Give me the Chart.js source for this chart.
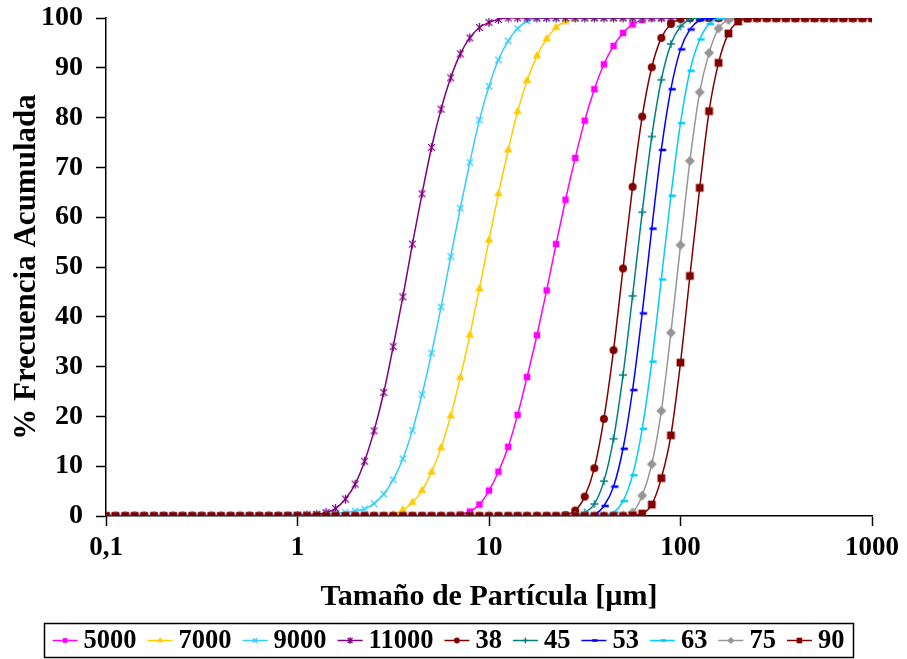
<!DOCTYPE html>
<html>
<head>
<meta charset="utf-8">
<script src="https://cdn.jsdelivr.net/npm/chart.js@4/dist/chart.umd.min.js"></script>
<style>
  html, body { margin: 0; padding: 0; background: #ffffff; }
  #wrap { width: 907px; height: 659px; position: relative; }
</style>
</head>
<body>
<div id="wrap"><canvas id="c" width="907" height="659"></canvas></div>
<script>
// ---------------- data ----------------
const sizes = [
  0.1, 0.112, 0.126, 0.141, 0.158, 0.178, 0.2, 0.224, 0.251, 0.282, 0.316, 0.355, 0.398, 0.447, 0.501, 0.562, 0.631, 0.708, 0.794, 0.891,
  1, 1.12, 1.26, 1.41, 1.58, 1.78, 2, 2.24, 2.51, 2.82, 3.16, 3.55, 3.98, 4.47, 5.01, 5.62, 6.31, 7.08, 7.94, 8.91,
  10, 11.2, 12.6, 14.1, 15.8, 17.8, 20, 22.4, 25.1, 28.2, 31.6, 35.5, 39.8, 44.7, 50.1, 56.2, 63.1, 70.8, 79.4, 89.1,
  100, 112, 126, 141, 158, 178, 200, 224, 251, 282, 316, 355, 398, 447, 501, 562, 631, 708, 794, 891,
  1000
];

const seriesNames = ['5000', '7000', '9000', '11000', '38', '45', '53', '63', '75', '90'];

const s5000 = [
  0,0,0,0,0,0,0,0,0,0,0,0,0,0,0,0,0,0,0,0,
  0,0,0,0,0,0,0,0,0,0,0,0,0,0,0,0,0,0.3,0.9,2.3,
  5.1,8.9,13.9,20.3,27.9,36.3,45.3,54.6,63.5,71.9,79.4,85.7,90.7,94.4,97.0,98.7,99.6,100,100,100,
  100,100,100,100,100,100,100,100,100,100,100,100,100,100,100,100,100,100,100,100,
  100
];
const s7000 = [
  0,0,0,0,0,0,0,0,0,0,0,0,0,0,0,0,0,0,0,0,
  0,0,0,0,0,0,0,0,0,0,0.3,1.2,2.7,5.1,8.8,13.7,20.1,27.8,36.3,45.6,
  55.4,64.7,73.5,81.2,87.4,92.4,95.8,98.1,99.3,99.8,100,100,100,100,100,100,100,100,100,100,
  100,100,100,100,100,100,100,100,100,100,100,100,100,100,100,100,100,100,100,100,
  100
];
const s9000 = [
  0,0,0,0,0,0,0,0,0,0,0,0,0,0,0,0,0,0,0,0.2,
  0.3,0.3,0.4,0.5,0.6,0.7,1.0,1.4,2.5,4.4,7.3,11.5,17.2,24.4,32.7,42.0,52.1,61.8,71.0,79.5,
  86.3,91.6,95.4,97.9,99.4,99.9,100,100,100,100,100,100,100,100,100,100,100,100,100,100,
  100,100,100,100,100,100,100,100,100,100,100,100,100,100,100,100,100,100,100,100,
  100
];
const s11000 = [
  0,0,0,0,0,0,0,0,0,0,0,0,0,0,0,0,0,0,0,0,
  0.1,0.2,0.3,0.7,1.5,3.4,6.4,11.0,17.1,24.8,34.0,44.0,54.6,64.7,74.0,81.7,88.0,92.8,96.0,98.1,
  99.1,99.7,100,100,100,100,100,100,100,100,100,100,100,100,100,100,100,100,100,100,
  100,100,100,100,100,100,100,100,100,100,100,100,100,100,100,100,100,100,100,100,
  100
];
const s38 = [
  0,0,0,0,0,0,0,0,0,0,0,0,0,0,0,0,0,0,0,0,
  0,0,0,0,0,0,0,0,0,0,0,0,0,0,0,0,0,0,0,0,
  0,0,0,0,0,0,0,0,0.2,1.1,3.9,9.6,19.5,33.3,49.7,66.1,80.2,90.1,96.0,98.8,
  99.8,100,100,100,100,100,100,100,100,100,100,100,100,100,100,100,100,100,100,100,
  100
];
const s45 = [
  0,0,0,0,0,0,0,0,0,0,0,0,0,0,0,0,0,0,0,0,
  0,0,0,0,0,0,0,0,0,0,0,0,0,0,0,0,0,0,0,0,
  0,0,0,0,0,0,0,0,0,0.1,0.7,2.4,7.0,15.5,28.3,44.2,61.0,76.2,87.6,94.8,
  98.3,99.7,100,100,100,100,100,100,100,100,100,100,100,100,100,100,100,100,100,100,
  100
];
const s53 = [
  0,0,0,0,0,0,0,0,0,0,0,0,0,0,0,0,0,0,0,0,
  0,0,0,0,0,0,0,0,0,0,0,0,0,0,0,0,0,0,0,0,
  0,0,0,0,0,0,0,0,0,0,0,0.3,2.0,5.9,13.5,25.3,40.7,57.7,73.5,85.7,
  93.7,97.7,99.6,100,100,100,100,100,100,100,100,100,100,100,100,100,100,100,100,100,
  100
];
const s63 = [
  0,0,0,0,0,0,0,0,0,0,0,0,0,0,0,0,0,0,0,0,
  0,0,0,0,0,0,0,0,0,0,0,0,0,0,0,0,0,0,0,0,
  0,0,0,0,0,0,0,0,0,0,0,0,0.1,0.7,3.0,8.2,17.5,31.0,47.5,64.3,
  78.9,89.4,95.7,98.8,99.9,100,100,100,100,100,100,100,100,100,100,100,100,100,100,100,
  100
];
const s75 = [
  0,0,0,0,0,0,0,0,0,0,0,0,0,0,0,0,0,0,0,0,
  0,0,0,0,0,0,0,0,0,0,0,0,0,0,0,0,0,0,0,0,
  0,0,0,0,0,0,0,0,0,0,0,0,0,0,0.1,0.7,4.1,10.4,21.1,36.8,
  54.4,71.3,85.1,93.0,97.9,99.6,100,100,100,100,100,100,100,100,100,100,100,100,100,100,
  100
];
const s90 = [
  0,0,0,0,0,0,0,0,0,0,0,0,0,0,0,0,0,0,0,0,
  0,0,0,0,0,0,0,0,0,0,0,0,0,0,0,0,0,0,0,0,
  0,0,0,0,0,0,0,0,0,0,0,0,0,0,0,0.1,0.5,2.3,7.6,16.2,
  30.8,48.2,65.9,81.3,91.0,96.9,99.3,99.9,100,100,100,100,100,100,100,100,100,100,100,100,
  100
];

const xTickValues = [0.1, 1, 10, 100, 1000];
const xTickLabels = ['0,1', '1', '10', '100', '1000'];
const yTickValues = [0, 10, 20, 30, 40, 50, 60, 70, 80, 90, 100];

const xTitle = 'Tamaño de Partícula [\u00b5m]';
const yTitle = '% Frecuencia Acumulada';

// ---------------- styles ----------------
const seriesValues = [s5000, s7000, s9000, s11000, s38, s45, s53, s63, s75, s90];
const seriesColors = ['#FF00FF', '#FFCC00', '#33CCFF', '#800080', '#800000', '#008080', '#0000FF', '#00CCFF', '#969696', '#800000'];
const seriesMarkers = ['rect', 'triangle', 'crossRot', 'asterisk', 'circle', 'cross', 'dash', 'dash', 'rectRot', 'rect'];
const markerRadius = [4.6, 5, 4, 4.5, 4, 4, 4, 4, 5, 5.5];

const FONT = "'Liberation Serif', 'Times New Roman', serif";

function drawMarker(ctx, style, x, y, r, color) {
  ctx.save();
  ctx.fillStyle = color;
  ctx.strokeStyle = color;
  ctx.lineWidth = 1.3;
  ctx.beginPath();
  switch (style) {
    case 'rect': {
      const s = r * Math.SQRT1_2;
      ctx.rect(x - s, y - s, 2 * s, 2 * s);
      ctx.fill();
      break;
    }
    case 'rectRot': {
      ctx.moveTo(x, y - r); ctx.lineTo(x + r, y); ctx.lineTo(x, y + r); ctx.lineTo(x - r, y); ctx.closePath();
      ctx.fill();
      break;
    }
    case 'triangle': {
      ctx.moveTo(x, y - r); ctx.lineTo(x + r * 0.866, y + r * 0.5); ctx.lineTo(x - r * 0.866, y + r * 0.5); ctx.closePath();
      ctx.fill();
      break;
    }
    case 'circle': {
      ctx.arc(x, y, r, 0, Math.PI * 2);
      ctx.fill();
      break;
    }
    case 'crossRot': {
      const d = r * 0.8;
      ctx.moveTo(x - d, y - d); ctx.lineTo(x + d, y + d);
      ctx.moveTo(x + d, y - d); ctx.lineTo(x - d, y + d);
      ctx.stroke();
      break;
    }
    case 'asterisk': {
      const d = r * 0.75;
      ctx.moveTo(x - d, y - d); ctx.lineTo(x + d, y + d);
      ctx.moveTo(x + d, y - d); ctx.lineTo(x - d, y + d);
      ctx.moveTo(x, y - r); ctx.lineTo(x, y + r);
      ctx.stroke();
      break;
    }
    case 'cross': {
      ctx.moveTo(x - r, y); ctx.lineTo(x + r, y);
      ctx.moveTo(x, y - r); ctx.lineTo(x, y + r);
      ctx.stroke();
      break;
    }
    case 'dash': {
      ctx.lineWidth = 2.6;
      ctx.moveTo(x - r * 0.6, y); ctx.lineTo(x + r * 1.2, y);
      ctx.stroke();
      break;
    }
  }
  ctx.restore();
}

function markerCanvas(style, r, color) {
  const size = Math.ceil(r * 2 + 6);
  const cv = document.createElement('canvas');
  cv.width = size; cv.height = size;
  drawMarker(cv.getContext('2d'), style, size / 2, size / 2, r, color);
  return cv;
}

const N = seriesNames.length;
const datasets = seriesNames.map((name, i) => ({
  label: name,
  data: sizes.map((x, k) => ({ x: x, y: seriesValues[i][k] })),
  borderColor: seriesColors[i],
  backgroundColor: seriesColors[i],
  borderWidth: 1.5,
  pointStyle: markerCanvas(seriesMarkers[i], markerRadius[i], seriesColors[i]),
  pointRadius: markerRadius[i],
  pointHoverRadius: markerRadius[i],
  cubicInterpolationMode: 'monotone',
  fill: false,
  order: N - 1 - i
}));

// legend drawn from the datasets (line sample + marker + label), inside a framed box
const boxedLegend = {
  id: 'boxedLegend',
  afterDraw(chart) {
    const ctx = chart.ctx;
    const boxL = 44, boxR = 853, boxT = 623, boxB = 657;
    const cy = (boxT + boxB) / 2 + 0.5;
    ctx.save();
    ctx.font = 'bold 26.5px ' + FONT;
    ctx.textBaseline = 'middle';
    ctx.textAlign = 'left';
    const sample = 25, gapS = 6, gapI = 11;
    const dsets = chart.data.datasets;
    const widths = dsets.map(d => ctx.measureText(d.label).width);
    let total = 0;
    widths.forEach((w, i) => { total += sample + gapS + w + (i < widths.length - 1 ? gapI : 0); });
    let x = (boxL + boxR) / 2 - total / 2;
    dsets.forEach((d, i) => {
      ctx.strokeStyle = seriesColors[i];
      ctx.lineWidth = 1.5;
      ctx.beginPath();
      ctx.moveTo(x, cy); ctx.lineTo(x + sample, cy);
      ctx.stroke();
      drawMarker(ctx, seriesMarkers[i], x + sample / 2, cy, markerRadius[i] * 0.72, seriesColors[i]);
      ctx.fillStyle = '#000';
      ctx.fillText(d.label, x + sample + gapS, cy + 1);
      x += sample + gapS + widths[i] + gapI;
    });
    ctx.strokeStyle = '#000';
    ctx.lineWidth = 1.5;
    ctx.strokeRect(boxL + 0.5, boxT + 0.5, boxR - boxL, boxB - boxT);
    ctx.restore();
  }
};

new Chart(document.getElementById('c'), {
  type: 'line',
  data: { datasets: datasets },
  plugins: [boxedLegend],
  options: {
    responsive: false,
    animation: false,
    events: [],
    layout: { padding: { left: 4, right: 35, top: 18, bottom: 40 } },
    plugins: {
      tooltip: { enabled: false },
      legend: { display: false }
    },
    scales: {
      x: {
        type: 'logarithmic',
        min: 0.1,
        max: 1000,
        afterBuildTicks(scale) { scale.ticks = xTickValues.map(v => ({ value: v })); },
        afterFit(scale) { scale.height = 103; scale.paddingLeft = 0; scale.paddingRight = 0; },
        ticks: {
          autoSkip: false,
          maxRotation: 0,
          padding: 6,
          color: '#000',
          font: { family: FONT, size: 27, weight: 'bold' },
          callback: (v, idx) => xTickLabels[idx]
        },
        grid: { drawOnChartArea: false, drawTicks: true, tickLength: 10, tickColor: '#000', tickWidth: 1.5 },
        border: { display: true, color: '#000', width: 1.5 },
        title: {
          display: true, text: xTitle, color: '#000',
          font: { family: FONT, size: 30, weight: 'bold' },
          padding: { top: 2, bottom: 4 }
        }
      },
      y: {
        type: 'linear',
        min: 0,
        max: 100,
        afterBuildTicks(scale) { scale.ticks = yTickValues.map(v => ({ value: v })); },
        afterFit(scale) { scale.width = 102; scale.paddingTop = 0; scale.paddingBottom = 0; },
        ticks: {
          padding: 13,
          color: '#000',
          font: { family: FONT, size: 28, weight: 'bold' }
        },
        grid: { drawOnChartArea: false, drawTicks: true, tickLength: 10, tickColor: '#000', tickWidth: 1.5 },
        border: { display: true, color: '#000', width: 1.5 },
        title: {
          display: true, text: yTitle, color: '#000',
          font: { family: FONT, size: 31, weight: 'bold' },
          padding: { top: 4, bottom: 4 }
        }
      }
    }
  }
});
</script>
</body>
</html>
